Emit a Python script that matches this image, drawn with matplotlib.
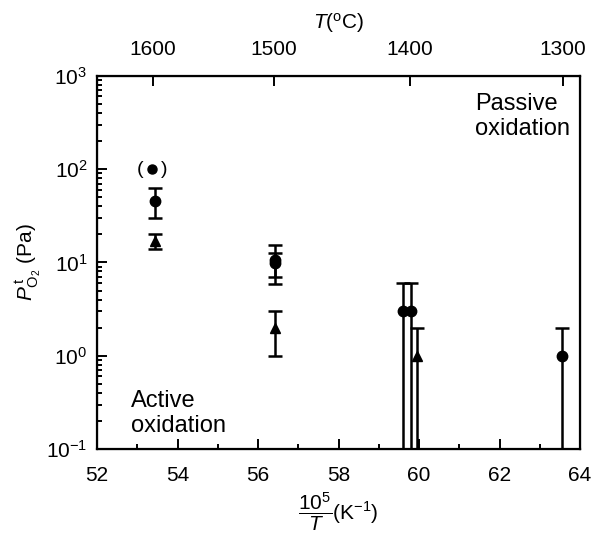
import numpy as np
import matplotlib.pyplot as plt
from matplotlib.ticker import LogLocator, NullFormatter

plt.rcParams['font.family'] = ['Liberation Sans', 'DejaVu Sans']
plt.rcParams['mathtext.fontset'] = 'custom'
plt.rcParams['mathtext.rm'] = 'Liberation Sans'
plt.rcParams['mathtext.it'] = 'Liberation Sans:italic'

# circles (x = 10^5/T, P in Pa, lower/upper error bounds)
circ_x = [53.45, 56.42, 56.42, 59.6, 59.8, 63.56]
circ_y = [46, 10.5, 9.8, 3.0, 3.0, 1.0]
circ_lo = [30, 6.9, 5.9, 0.05, 0.05, 0.05]
circ_hi = [62, 12.6, 15.5, 6.0, 6.0, 2.0]

# triangles
tri_x = [53.45, 56.42, 59.95]
tri_y = [17, 2.0, 1.0]
tri_lo = [14, 1.0, 0.05]
tri_hi = [20, 3.0, 2.0]

# uncertain point in brackets
br_x = 53.37
br_y = 100

top_T = [1600, 1500, 1400, 1300]

fig = plt.figure(figsize=(5.93, 5.45), dpi=100)
ax = fig.add_axes([0.1636, 0.176, 0.8145, 0.685])

def draw(x, y, lo, hi, m, ms):
    y = np.array(y)
    err = [y - np.array(lo), np.array(hi) - y]
    ax.errorbar(x, y, yerr=err, fmt=m, color='black', ms=ms, capsize=5,
                elinewidth=1.8, capthick=1.8)

draw(circ_x, circ_y, circ_lo, circ_hi, 'o', 7.5)
draw(tri_x, tri_y, tri_lo, tri_hi, '^', 7.5)
ax.plot([br_x], [br_y], 'o', color='black', ms=6.5)
ax.text(br_x - 0.31, br_y, '(', ha='center', va='center', fontsize=14)
ax.text(br_x + 0.31, br_y, ')', ha='center', va='center', fontsize=14)

ax.set_yscale('log')
ax.set_xlim(52, 64)
ax.set_ylim(0.1, 1000)
ax.set_xticks(range(52, 65, 2))
ax.set_xticks(range(53, 64, 2), minor=True)
ax.yaxis.set_minor_locator(LogLocator(base=10, subs=np.arange(2, 10)))
ax.yaxis.set_minor_formatter(NullFormatter())
ax.tick_params(which='both', direction='in', labelsize=15, width=1.4)
ax.tick_params(axis='x', which='major', pad=12)
ax.tick_params(axis='y', which='major', pad=7)
ax.tick_params(which='major', length=7)
ax.tick_params(which='minor', length=3.5)
for s in ax.spines.values():
    s.set_linewidth(1.6)

ax.set_xlabel(r'$\dfrac{10^5}{T}$(K$^{-1}$)', fontsize=15, labelpad=4)
ax.set_ylabel(r'$P^{\,\mathrm{t}}_{\mathrm{O_2}}$ (Pa)', fontsize=15, labelpad=2)

top = ax.twiny()
top.set_xlim(ax.get_xlim())
top.set_xticks([1e5 / (t + 273.15) for t in top_T])
top.set_xticklabels([str(t) for t in top_T])
top.tick_params(direction='in', labelsize=15, length=7, width=1.4, pad=12)
top.set_xlabel(r'$T$($^{\rm o}$C)', fontsize=15, labelpad=8)

ax.text(63.75, 650, 'Passive\noxidation', ha='right', va='top', fontsize=17,
        linespacing=1.15, multialignment='left')
ax.text(52.85, 0.135, 'Active\noxidation', ha='left', va='bottom', fontsize=17,
        linespacing=1.15)

fig.savefig('out.png', dpi=100)
